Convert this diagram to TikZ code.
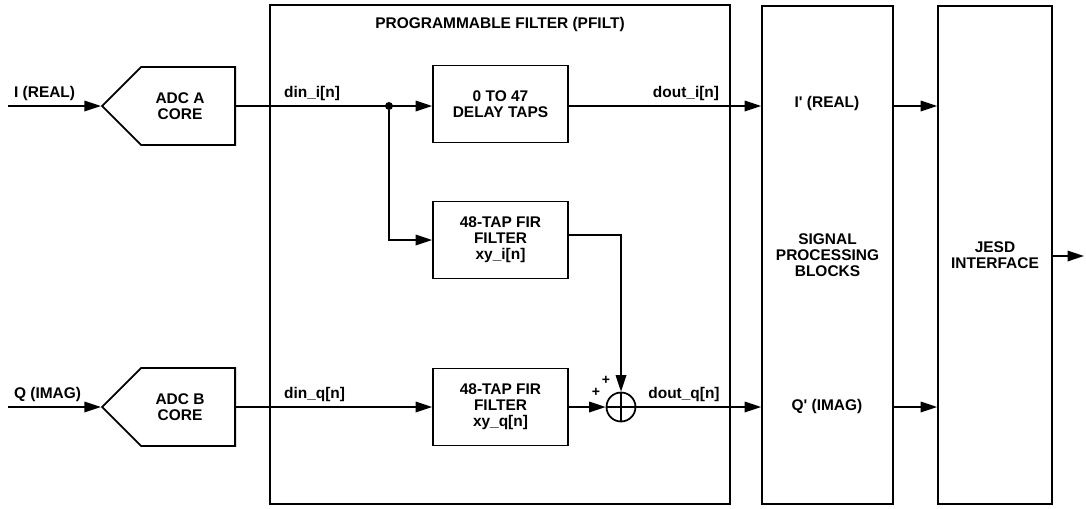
\documentclass[tikz,border=0pt]{standalone}
\usepackage{fontspec}
\setmainfont{Liberation Sans}
\usepackage{tikz}
\usetikzlibrary{
    arrows.meta,
    calc,
    positioning,
    shapes.symbols
}
\definecolor{ink}{HTML}{000000}
\newcommand{\diafont}{\fontsize{8.8}{9.1}\selectfont\bfseries}

\begin{document}
\begin{tikzpicture}[
    x=0.02cm, y=-0.02cm,
    line join=miter,
    >={Triangle[length=3.3mm, width=2.1mm]},
    %% --- semantic styles ---
    adcbox/.style     = {signal, signal to=west, draw=ink, line width=1pt,
                         minimum width=2.66cm, minimum height=1.56cm,
                         inner sep=0pt},
    blockbox/.style   = {rectangle, draw=ink, line width=1pt,
                         minimum width=2.7cm, minimum height=1.54cm,
                         font=\diafont, align=center, inner sep=2pt},
    tallbox/.style    = {rectangle, draw=ink, line width=1pt,
                         minimum height=9.96cm, inner sep=0pt},
    sumnode/.style    = {circle, draw=ink, line width=1pt, minimum size=0.58cm,
                         inner sep=0pt,
                         path picture={\draw[line width=1pt]
                             (path picture bounding box.north) --
                             (path picture bounding box.south)
                             (path picture bounding box.west) --
                             (path picture bounding box.east);}},
    junction/.style   = {circle, fill=ink, minimum size=0.16cm, inner sep=0pt},
    sig/.style        = {->, draw=ink, line width=1pt},
    lbl/.style        = {font=\diafont, inner sep=1pt, align=center}
]
\useasboundingbox (0,0) rectangle (1086,508);

%% =====================================================
%% Converters
%% =====================================================
\node[adcbox, anchor=east] (ADCA) at (236,106) {};
\node[adcbox, anchor=east] (ADCB) at (236,407) {};
\node[lbl] (ADCATXT) at (180,106) {ADC A\\CORE};
\node[lbl] (ADCBTXT) at (180,407) {ADC B\\CORE};

\coordinate (IIN) at (8,106);
\coordinate (QIN) at (8,407);
\node[lbl, anchor=west] (ILBL) at (12,93)  {I (REAL)};
\node[lbl, anchor=west] (QLBL) at (12,394) {Q (IMAG)};
\draw[sig] (IIN) -- (ADCA.west);
\draw[sig] (QIN) -- (ADCB.west);

%% =====================================================
%% PROGRAMMABLE FILTER (PFILT)
%% =====================================================
\node[tallbox, minimum width=9.2cm, minimum height=9.98cm] (PFILT) at (500,254.5) {};
\node[lbl, anchor=north] (PTITLE) at ($(PFILT.north) + (0,11)$)
    {PROGRAMMABLE FILTER (PFILT)};

\node[blockbox] (DELAY) at (500.5,104) {0 TO 47\\DELAY TAPS};
\node[blockbox] (FIRI)  at (500.5,240) {48-TAP FIR\\FILTER\\xy\_i[n]};
\node[blockbox] (FIRQ)  at (500.5,407) {48-TAP FIR\\FILTER\\xy\_q[n]};
\node[sumnode] (SUM) at (621,407) {};
\node[junction] (JI) at (389,106) {};

\node[lbl, anchor=west] (DINI)  at (282,93)  {din\_i[n]};
\node[lbl, anchor=west] (DINQ)  at (282,394) {din\_q[n]};
\node[lbl] (DOUTI) at (686,93)  {dout\_i[n]};
\node[lbl] (DOUTQ) at (684,394) {dout\_q[n]};
\node[lbl, font=\fontsize{8}{8}\selectfont\bfseries] (PLUSA) at (596,392) {+};
\node[lbl, font=\fontsize{8}{8}\selectfont\bfseries] (PLUSB) at (606,380) {+};

\draw[sig] (ADCA.east |- JI) -- (DELAY.west |- JI);
\draw[sig] (JI) |- (FIRI.west);
\draw[sig] (ADCB.east) -- (FIRQ.west);
\draw[sig] ([yshift=1mm]FIRI.east) -| (SUM.north);
\draw[sig] (FIRQ.east) -- (SUM.west);

%% =====================================================
%% Signal processing and JESD
%% =====================================================
\node[tallbox, minimum width=2.62cm] (SPB)  at (827.5,255) {};
\node[tallbox, minimum width=2.28cm] (JESD) at (995,255) {};

\node[lbl] (IOUT) at (827,103) {I\textquotesingle{} (REAL)};
\node[lbl] (QOUT) at (827,406) {Q\textquotesingle{} (IMAG)};
\node[lbl] (SPBTXT)  at (SPB)  {SIGNAL\\PROCESSING\\BLOCKS};
\node[lbl] (JESDTXT) at (JESD) {JESD\\INTERFACE};

\draw[sig] (DELAY.east |- JI) -- (SPB.west |- JI);
\draw[sig] (SUM.east) -- (SPB.west |- SUM);
\draw[sig] (SPB.east |- JI) -- (JESD.west |- JI);
\draw[sig] (SPB.east |- SUM) -- (JESD.west |- SUM);

\coordinate (OUT) at (1084,256);
\draw[sig] (JESD.east |- OUT) -- (OUT);

\end{tikzpicture}
\end{document}
